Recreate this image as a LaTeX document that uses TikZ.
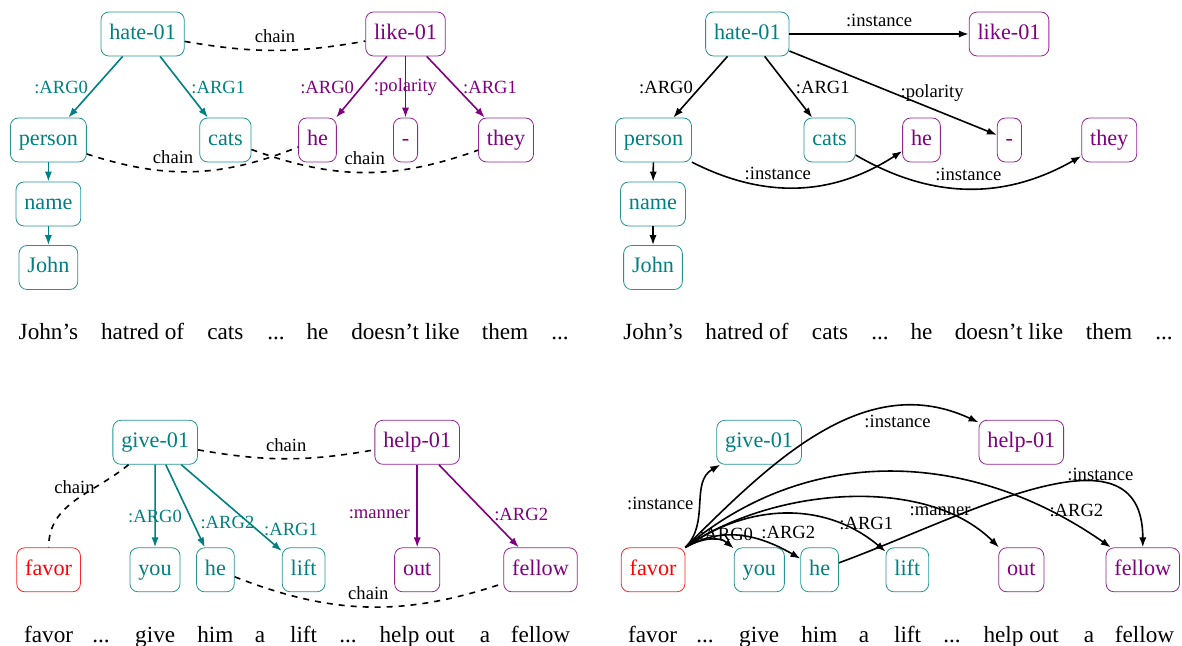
\documentclass[tikz,border=0pt]{standalone}
\usepackage{fontspec}
\setmainfont{Liberation Serif}
\usepackage{tikz}
\usetikzlibrary{arrows.meta}
\definecolor{amrteal}{RGB}{0,128,128}
\definecolor{amrpurple}{RGB}{128,0,128}

\begin{document}
\begin{tikzpicture}[x=0.5pt,y=-0.5pt,thick,>={Latex[length=5pt,width=3.6pt]},
  concept/.style={draw,thin,rounded corners=4pt,inner xsep=4.2pt,minimum height=22pt,text height=7.6pt,text depth=2.4pt,font=\fontsize{11.1}{13}\selectfont},
  tc/.style={concept,draw=amrteal!85,text=amrteal},
  pc/.style={concept,draw=amrpurple!85,text=amrpurple},
  rc/.style={concept,draw=red!85,text=red},
  role/.style={font=\fontsize{9.3}{11}\selectfont},
  word/.style={anchor=base,font=\fontsize{11.6}{13}\selectfont},
  tedge/.style={->,amrteal},
  pedge/.style={->,amrpurple},
  chainedge/.style={dashed}]
\useasboundingbox (0,0) rectangle (1182,646);

\node [tc] (hateA) at (142.6,34) {hate-01};
\node [pc] (likeA) at (405.5,34) {like-01};
\node [tc] (personA) at (48.4,140) {person};
\node [tc] (catsA) at (225.4,140) {cats};
\node [pc] (heA) at (317.5,140) {he};
\node [pc] (polA) at (405.5,140) {-};
\node [pc] (theyA) at (506,140) {they};
\node [tc] (nameA) at (48.4,204) {name};
\node [tc] (johnA) at (48.4,267.5) {John};
\draw [tedge] (hateA) -- node [role,left] {:ARG0} (personA);
\draw [tedge] (hateA) -- node [role,right] {:ARG1} (catsA);
\draw [pedge] (likeA) -- node [role,left] {:ARG0} (heA);
\draw [pedge] (likeA) -- node [role] {:polarity} (polA);
\draw [pedge] (likeA) -- node [role,right] {:ARG1} (theyA);
\draw [tedge] (personA) -- (nameA);
\draw [tedge] (nameA) -- (johnA);
\draw [chainedge] (hateA) to [bend right=10] node [role,above] {chain} (likeA);
\draw [chainedge] (personA) to [bend right=20] node [role,pos=0.4,above] {chain} (heA);
\draw [chainedge] (catsA) to [bend right=20] node [role,above] {chain} (theyA);
\node [word] (sA1) at (48.4,340) {John’s};
\node [word] (sA2) at (142.6,340) {hatred of};
\node [word] (sA3) at (225.4,340) {cats};
\node [word] (sA4) at (276,340) {...};
\node [word] (sA5) at (317.5,340) {he};
\node [word] (sA6) at (405.5,340) {doesn’t like};
\node [word] (sA7) at (505,340) {them};
\node [word] (sA8) at (560,340) {...};

\node [tc] (hateB) at (747.3,34) {hate-01};
\node [pc] (likeB) at (1009,34) {like-01};
\node [tc] (personB) at (653.5,140) {person};
\node [tc] (catsB) at (829.6,140) {cats};
\node [pc] (heB) at (921.5,140) {he};
\node [pc] (polB) at (1009.4,140) {-};
\node [pc] (theyB) at (1109.2,140) {they};
\node [tc] (nameB) at (653,204) {name};
\node [tc] (johnB) at (653,267.5) {John};
\draw [->] (hateB) -- node [role,above] {:instance} (likeB);
\draw [->] (hateB) -- node [role,left] {:ARG0} (personB);
\draw [->] (hateB) -- node [role,right] {:ARG1} (catsB);
\draw [->] (hateB) -- node [role,right] {:polarity} (polB);
\draw [->] (personB) -- (nameB);
\draw [->] (nameB) -- (johnB);
\draw [->] (personB) to [bend right=30] node [role,pos=0.4,above] {:instance} (heB);
\draw [->] (catsB) to [bend right=30] node [role,above] {:instance} (theyB);
\node [word] (sB1) at (653,340) {John’s};
\node [word] (sB2) at (747,340) {hatred of};
\node [word] (sB3) at (830,340) {cats};
\node [word] (sB4) at (880,340) {...};
\node [word] (sB5) at (921.5,340) {he};
\node [word] (sB6) at (1009,340) {doesn’t like};
\node [word] (sB7) at (1109,340) {them};
\node [word] (sB8) at (1164,340) {...};

\node [tc] (giveC) at (155.2,442.3) {give-01};
\node [pc] (helpC) at (417.2,442.3) {help-01};
\node [rc] (favorC) at (48.6,569.8) {favor};
\node [tc] (youC) at (155,569.8) {you};
\node [tc] (heC) at (215.4,569.8) {he};
\node [tc] (liftC) at (303.6,569.8) {lift};
\node [pc] (outC) at (417.2,569.8) {out};
\node [pc] (fellowC) at (540.5,569.8) {fellow};
\draw [tedge] (giveC) -- node [role,pos=0.63] {:ARG0} (youC);
\draw [tedge] (giveC) -- node [role,pos=0.7,right] {:ARG2} (heC);
\draw [tedge] (giveC) -- node [role,pos=0.75,right] {:ARG1} (liftC);
\draw [pedge] (helpC) -- node [role,pos=0.6,left] {:manner} (outC);
\draw [pedge] (helpC) -- node [role,pos=0.6,right] {:ARG2} (fellowC);
\draw [chainedge] (giveC) to [bend right=10] node [role,above] {chain} (helpC);
\draw [chainedge] (giveC) to [out=220,in=90] node [role,pos=0.3,left=-3pt] {chain} (favorC);
\draw [chainedge] (heC) to [bend right=20] node [role,above] {chain} (fellowC);
\node [word] (sC1) at (48.6,642) {favor};
\node [word] (sC2) at (101,642) {...};
\node [word] (sC3) at (155.2,642) {give};
\node [word] (sC4) at (215.4,642) {him};
\node [word] (sC5) at (260,642) {a};
\node [word] (sC6) at (303.6,642) {lift};
\node [word] (sC7) at (348,642) {...};
\node [word] (sC8) at (417.2,642) {help out};
\node [word] (sC9) at (485,642) {a};
\node [word] (sC10) at (540.5,642) {fellow};

\node [tc] (giveD) at (759.1,442.3) {give-01};
\node [pc] (helpD) at (1021.3,442.3) {help-01};
\node [rc] (favorD) at (653.1,569.8) {favor};
\node [tc] (youD) at (759.3,569.8) {you};
\node [tc] (heD) at (819.7,569.8) {he};
\node [tc] (liftD) at (907.3,569.8) {lift};
\node [pc] (outD) at (1021.3,569.8) {out};
\node [pc] (fellowD) at (1142.8,569.8) {fellow};
\draw [->] (favorD.north east) to [out=45,in=210] node [role,left] {:instance} (giveD);
\draw [->] (favorD.north east) to [out=45,in=155] node [role,pos=0.75,below] {:instance} (helpD);
\draw [->] (favorD.north east) to [out=30,in=140] node [role,pos=0.25,above right=-3pt] {:ARG0} (youD);
\draw [->] (favorD.north east) to [out=30,in=150] node [role,pos=0.65,above right=-3pt] {:ARG2} (heD);
\draw [->] (favorD.north east) to [out=35,in=140] node [role,pos=0.75,right=-3pt] {:ARG1} (liftD);
\draw [->] (favorD.north east) to [out=35,in=135,looseness=0.85] node [role,pos=0.78] {:manner} (outD);
\draw [->] (favorD.north east) to [out=40,in=145] node [role,pos=0.85,right=-3pt] {:ARG2} (fellowD);
\draw [->] (heD) to [out=20,in=90,looseness=1.1] node [role,pos=0.7,above=-2pt] {:instance} (fellowD);
\node [word] (sD1) at (652.6,642) {favor};
\node [word] (sD2) at (705,642) {...};
\node [word] (sD3) at (759.2,642) {give};
\node [word] (sD4) at (819.4,642) {him};
\node [word] (sD5) at (864,642) {a};
\node [word] (sD6) at (907.6,642) {lift};
\node [word] (sD7) at (952,642) {...};
\node [word] (sD8) at (1021.2,642) {help out};
\node [word] (sD9) at (1089,642) {a};
\node [word] (sD10) at (1144.5,642) {fellow};
\end{tikzpicture}
\end{document}
